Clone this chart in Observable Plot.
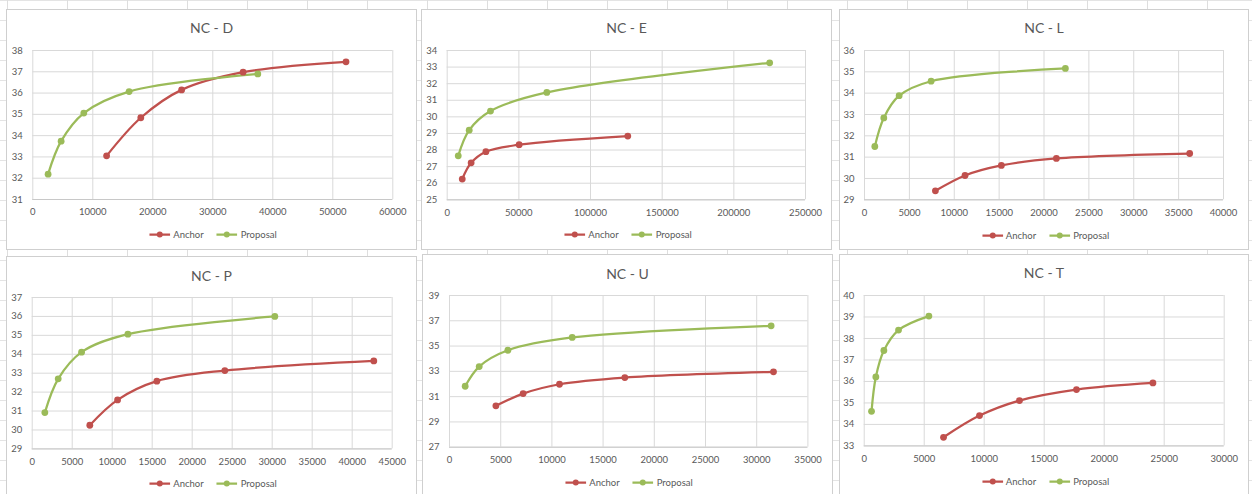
<!DOCTYPE html>
<html><head><meta charset="utf-8">
<script src="https://cdn.jsdelivr.net/npm/d3@7"></script>
<script src="https://cdn.jsdelivr.net/npm/@observablehq/plot@0.6"></script>
<style>
html,body{margin:0;padding:0;}
body{width:1252px;height:494px;overflow:hidden;position:relative;font-family:Lato,"Open Sans",sans-serif;background-color:#fff;
 background-image:linear-gradient(to right,#dedede 1px,transparent 1px),linear-gradient(to bottom,#e4e4e4 1px,transparent 1px);
 background-size:60px 20px;background-position:7px 0;}
.panel{position:absolute;background:#fff;border:1px solid #cfcfcf;box-sizing:border-box;}
.title{position:absolute;transform:translate(-50%,-50%);font-size:14px;color:#595959;white-space:nowrap;}
.legend{position:absolute;transform:translate(-50%,-50%);display:flex;align-items:center;font-size:9.5px;color:#595959;white-space:nowrap;}
.legend .item{display:flex;align-items:center;}
.legend .item + .item{margin-left:13px;}
.legend svg{margin-right:3px;}
.chart{position:absolute;}
</style></head><body>
<script>
const panelNames = ["NC - D","NC - E","NC - L","NC - P","NC - U","NC - T"];
const seriesNames = ["Anchor","Proposal"];
const seriesColors = ["#C0504D","#9BBB59"];

const dAnchorRate = [12300, 18000, 24800, 35050, 52200];
const dAnchorPsnr = [33.05, 34.84, 36.15, 36.98, 37.47];
const dProposalRate = [2550, 4720, 8500, 16050, 37500];
const dProposalPsnr = [32.19, 33.74, 35.06, 36.07, 36.90];

const eAnchorRate = [10500, 16700, 27000, 50200, 126000];
const eAnchorPsnr = [26.25, 27.23, 27.90, 28.32, 28.84];
const eProposalRate = [7700, 15350, 30200, 69500, 225000];
const eProposalPsnr = [27.65, 29.20, 30.35, 31.47, 33.26];

const lAnchorRate = [7900, 11200, 15250, 21380, 36230];
const lAnchorPsnr = [29.42, 30.14, 30.61, 30.94, 31.17];
const lProposalRate = [1150, 2150, 3860, 7420, 22380];
const lProposalPsnr = [31.50, 32.84, 33.88, 34.56, 35.16];

const pAnchorRate = [7200, 10670, 15580, 24080, 42700];
const pAnchorPsnr = [30.25, 31.59, 32.58, 33.14, 33.65];
const pProposalRate = [1580, 3250, 6170, 11960, 30330];
const pProposalPsnr = [30.92, 32.70, 34.11, 35.06, 36.00];

const uAnchorRate = [4530, 7190, 10740, 17120, 31640];
const uAnchorPsnr = [30.27, 31.24, 31.98, 32.51, 32.96];
const uProposalRate = [1530, 2900, 5700, 11980, 31410];
const uProposalPsnr = [31.82, 33.38, 34.67, 35.68, 36.60];

const tAnchorRate = [6610, 9610, 12940, 17690, 24060];
const tAnchorPsnr = [33.40, 34.41, 35.11, 35.62, 35.93];
const tProposalRate = [610, 970, 1640, 2860, 5390];
const tProposalPsnr = [34.61, 36.21, 37.44, 38.39, 39.04];

const dXTicks = [0, 10000, 20000, 30000, 40000, 50000, 60000];
const dYTicks = [31, 32, 33, 34, 35, 36, 37, 38];
const eXTicks = [0, 50000, 100000, 150000, 200000, 250000];
const eYTicks = [25, 26, 27, 28, 29, 30, 31, 32, 33, 34];
const lXTicks = [0, 5000, 10000, 15000, 20000, 25000, 30000, 35000, 40000];
const lYTicks = [29, 30, 31, 32, 33, 34, 35, 36];
const pXTicks = [0, 5000, 10000, 15000, 20000, 25000, 30000, 35000, 40000, 45000];
const pYTicks = [29, 30, 31, 32, 33, 34, 35, 36, 37];
const uXTicks = [0, 5000, 10000, 15000, 20000, 25000, 30000, 35000];
const uYTicks = [27, 29, 31, 33, 35, 37, 39];
const tXTicks = [0, 5000, 10000, 15000, 20000, 25000, 30000];
const tYTicks = [33, 34, 35, 36, 37, 38, 39, 40];

const panelData = [
  [dAnchorRate, dAnchorPsnr, dProposalRate, dProposalPsnr, dXTicks, dYTicks],
  [eAnchorRate, eAnchorPsnr, eProposalRate, eProposalPsnr, eXTicks, eYTicks],
  [lAnchorRate, lAnchorPsnr, lProposalRate, lProposalPsnr, lXTicks, lYTicks],
  [pAnchorRate, pAnchorPsnr, pProposalRate, pProposalPsnr, pXTicks, pYTicks],
  [uAnchorRate, uAnchorPsnr, uProposalRate, uProposalPsnr, uXTicks, uYTicks],
  [tAnchorRate, tAnchorPsnr, tProposalRate, tProposalPsnr, tXTicks, tYTicks]
];

// layout: panel box [l,t,r,b], plot area [l,t,r,b], title y, legend y (page px)
const layout = [
  {box:[6,9,417,250],   plot:[32.3,50,392.3,199],      titleY:27,  legendY:234},
  {box:[421,9,832,250], plot:[446.7,50,805,199.3],     titleY:27,  legendY:234},
  {box:[839,9,1249,250],plot:[864,50,1223,199.3],      titleY:27,  legendY:235},
  {box:[6,256,417,510], plot:[31.7,297.3,391.7,448.7], titleY:275, legendY:483},
  {box:[422,254,833,510],plot:[449,295.3,807.4,447],   titleY:273, legendY:482},
  {box:[839,254,1249,510],plot:[863.7,295.3,1223.7,445.7],titleY:272,legendY:481}
];

function legendIcon(color){
  return `<svg width="21" height="8"><line x1="0" y1="4" x2="21" y2="4" stroke="${color}" stroke-width="2.25"/><circle cx="10.5" cy="4" r="3" fill="${color}"/></svg>`;
}

panelData.forEach((pd, i) => {
  const [aX, aY, pX, pY, xTicks, yTicks] = pd;
  const L = layout[i];
  const [bl, bt, br, bb] = L.box;
  const [pl, pt, pr, pb] = L.plot;

  const panel = document.createElement("div");
  panel.className = "panel";
  Object.assign(panel.style, {left: bl+"px", top: bt+"px", width: (br-bl)+"px", height: (bb-bt)+"px"});
  document.body.appendChild(panel);

  const rows = [];
  aX.forEach((x, k) => rows.push({series: seriesNames[0], rate: x, psnr: aY[k]}));
  pX.forEach((x, k) => rows.push({series: seriesNames[1], rate: x, psnr: pY[k]}));

  const xDom = [xTicks[0], xTicks[xTicks.length-1]];
  const yDom = [yTicks[0], yTicks[yTicks.length-1]];
  const mt = 10, mb = 25;
  const chart = Plot.plot({
    width: br - bl,
    height: (pb - pt) + mt + mb,
    marginLeft: pl - bl,
    marginRight: br - pr,
    marginTop: mt,
    marginBottom: mb,
    style: {fontFamily: "Lato, 'Open Sans', sans-serif", fontSize: "9.5px", color: "#595959", background: "transparent", overflow: "visible"},
    x: {domain: xDom, ticks: xTicks, tickFormat: d => String(d), tickSize: 0, tickPadding: 9, label: null},
    y: {domain: yDom, ticks: yTicks, tickFormat: d => String(d), tickSize: 0, tickPadding: 10, label: null},
    color: {domain: seriesNames, range: seriesColors},
    marks: [
      Plot.gridX(xTicks, {stroke: "#d9d9d9", strokeOpacity: 1, strokeWidth: 1}),
      Plot.gridY(yTicks, {stroke: "#d9d9d9", strokeOpacity: 1, strokeWidth: 1}),
      Plot.ruleY([yDom[0]], {stroke: "#c8c8c8"}),
      Plot.line(rows, {x: "rate", y: "psnr", z: "series", stroke: "series", curve: "catmull-rom", strokeWidth: 2.25}),
      Plot.dot(rows, {x: "rate", y: "psnr", fill: "series", r: 3.4})
    ]
  });
  chart.classList.add("chart");
  Object.assign(chart.style, {left: bl+"px", top: (pt - mt)+"px"});
  document.body.appendChild(chart);

  const title = document.createElement("div");
  title.className = "title";
  title.textContent = panelNames[i];
  Object.assign(title.style, {left: ((bl+br)/2)+"px", top: L.titleY+"px"});
  document.body.appendChild(title);

  const leg = document.createElement("div");
  leg.className = "legend";
  leg.innerHTML = seriesNames.map((s, k) => `<div class="item">${legendIcon(seriesColors[k])}<span>${s}</span></div>`).join("");
  Object.assign(leg.style, {left: ((bl+br)/2 + 1.5)+"px", top: L.legendY+"px"});
  document.body.appendChild(leg);
});
</script>
</body></html>
